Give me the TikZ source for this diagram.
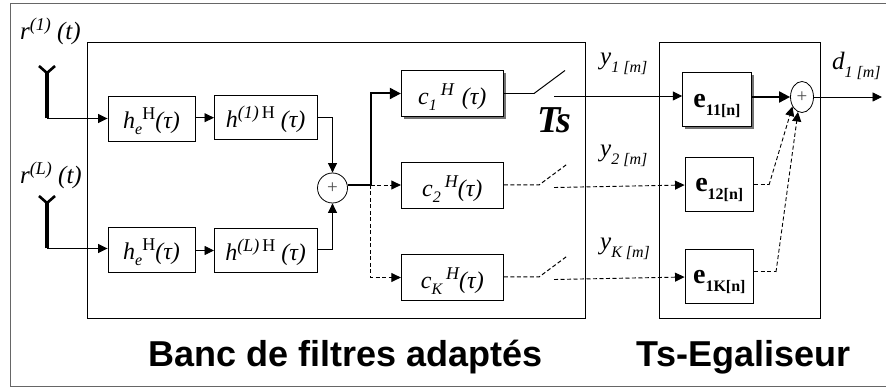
\documentclass[tikz,border=0pt]{standalone}
\usepackage{fontspec}
\setmainfont{Liberation Serif}
\setsansfont{Liberation Sans}
\usetikzlibrary{arrows.meta,shadows,shapes.geometric}
\newcommand{\sublo}[2][6pt]{\raisebox{-#1}[0pt][0pt]{\fontsize{16}{18}\selectfont #2}}
\newcommand{\suphi}[2][9pt]{\raisebox{#1}[0pt][0pt]{\fontsize{18}{20}\selectfont #2}}
\newcommand{\eqsub}[1]{e\raisebox{-8pt}[0pt][0pt]{\fontsize{16}{18}\selectfont #1}}
\tikzset{
  sig/.style={-{Triangle[length=9.5pt,width=9pt]},line width=0.9pt},
  sigthick/.style={-{Triangle[length=11pt,width=11pt]},line width=2pt},
  sigdash/.style={sig,dash pattern=on 4pt off 2.5pt},
  wire/.style={line width=1pt},
  wiredash/.style={wire,dash pattern=on 4pt off 2.5pt},
  filt/.style={draw,line width=0.9pt,inner sep=0pt,text height=20pt,text depth=0pt,font=\fontsize{24}{26}\selectfont\itshape},
  chan/.style={filt,text height=22pt,minimum width=102pt,minimum height=46pt},
  shad/.style={fill=white,drop shadow={shadow xshift=2.5pt,shadow yshift=-2.5pt,fill=black!55,opacity=1}},
  eq/.style={filt,text height=16pt,minimum width=68.6pt,font=\fontsize{28}{30}\selectfont\bfseries},
  zone/.style={draw,line width=0.9pt,inner sep=0pt},
  adder/.style={draw,line width=0.8pt,inner sep=0pt,font=\fontsize{19}{19}\selectfont\color{black!70}},
  tag/.style={inner sep=0pt,anchor=base west,font=\fontsize{25}{27}\selectfont\itshape},
  title/.style={inner sep=0pt,anchor=base,font=\fontsize{36}{38}\selectfont\sffamily\bfseries},
  ant/.style={line width=3.3pt},
  antfork/.style={line width=2.6pt},
}
\begin{document}
\begin{tikzpicture}[x=1pt,y=-1pt]
\useasboundingbox (0,0) rectangle (886,387);
\node[draw=black!60,line width=1pt,minimum width=877pt,minimum height=382.5pt,inner sep=0pt] (frame) at (449,195.2) {};

\node[zone,minimum width=498pt,minimum height=275.5pt] (banc) at (336,180.2) {};
\node[zone,minimum width=161pt,minimum height=275.5pt] (egal) at (739.5,180.2) {};

\node[filt,minimum width=87pt,minimum height=45pt] (he1) at (151.5,118.5) {h\sublo{e}\suphi{\upshape H}(τ)};
\node[filt,minimum width=102.5pt,minimum height=43.5pt] (h1) at (265.7,117.7) {h\suphi{(1)\,\upshape H} (τ)};
\node[filt,minimum width=87pt,minimum height=45pt] (he2) at (151.5,249.7) {h\sublo{e}\suphi{\upshape H}(τ)};
\node[filt,minimum width=102.5pt,minimum height=43.5pt] (h2) at (265.7,250.5) {h\suphi{(L)\,\upshape H} (τ)};
\node[adder,circle,minimum size=30pt] (sum1) at (332.5,188) {+};
\coordinate (split) at (370.5,185);

\node[chan,shad] (c1) at (452.3,93.5) {c\sublo{1}\,\suphi{H}\,\,(τ)};
\node[chan] (c2) at (452.3,185.5) {c\sublo{2}\,\suphi{H}(τ)};
\node[chan] (cK) at (452.3,277.5) {c\sublo{K}\,\suphi{H}(τ)};

\node[eq,shad,minimum height=53.5pt] (e11) at (717,99.7) {\eqsub{11[n]}};
\node[eq,minimum height=54pt] (e12) at (719.3,184) {\eqsub{12[n]}};
\node[eq,minimum height=54pt] (e1K) at (719.3,276) {\eqsub{1K[n]}};
\node[adder,ellipse,minimum width=23pt,minimum height=31pt] (sum2) at (802,97) {+};

\coordinate (sw1a) at (534,93.5);
\coordinate (sw1b) at (565,70.5);
\coordinate (sw1c) at (554,96);
\coordinate (sw2a) at (539,185);
\coordinate (sw2b) at (568,163.5);
\coordinate (sw2c) at (554,187.5);
\coordinate (swKa) at (539,277);
\coordinate (swKb) at (568,255.5);
\coordinate (swKc) at (554,279.5);
\coordinate (bend2) at (769,185);
\coordinate (bendK) at (776,272);
\coordinate (out) at (882,97);

\coordinate (ant1) at (47,118.5);
\coordinate (ant1t) at (47,73);
\coordinate (ant1l) at (39,66);
\coordinate (ant1r) at (55,66);
\coordinate (ant2) at (47,248.5);
\coordinate (ant2t) at (47,203);
\coordinate (ant2l) at (39,196);
\coordinate (ant2r) at (55,196);

\draw[ant] (ant1) -- (ant1t);
\draw[antfork] (ant1l) -- (ant1t) -- (ant1r);
\draw[ant] (ant2) -- (ant2t);
\draw[antfork] (ant2l) -- (ant2t) -- (ant2r);

\draw[sig] (ant1) -- (he1.west |- ant1);
\draw[sig] (ant2) -- (he2.west |- ant2);
\draw[sig] (he1.east |- h1.west) -- (h1.west);
\draw[sig] (he2.east |- h2.west) -- (h2.west);
\draw[sig] (h1.east) -| (sum1.north);
\draw[sig] (h2.east |- 0,249) -| (sum1.south);

\draw[line width=1.6pt] (sum1.east |- split) -- (split);
\draw[sigthick] (split) |- (c1.west);
\draw[sigdash] (split) -- (c2.west |- split);
\draw[sigdash] (split) |- (cK.west);

\draw[wire,line width=1.6pt] (c1.east) -- (sw1a);
\draw[wire] (sw1a) -- (sw1b);
\draw[wiredash] (c2.east |- sw2a) -- (sw2a) -- (sw2b);
\draw[wiredash] (cK.east |- swKa) -- (swKa) -- (swKb);

\draw[sig] (sw1c) -- (e11.west |- sw1c);
\draw[sigdash] (sw2c) -- (e12.west |- sw2a);
\draw[sigdash] (swKc) -- (e1K.west |- swKa);

\draw[sigthick] (e11.east |- sum2) -- (sum2.west);
\draw[sig] (sum2.east) -- (out);
\draw[wiredash] (e12.east |- bend2) -- (bend2);
\draw[sigdash] (bend2) -- (sum2.225);
\draw[wiredash] (e1K.east |- bendK) -- (bendK);
\draw[sigdash] (bendK) -- (sum2.255);

\node[tag] (r1) at (20,40) {r\suphi{(1)} (t)};
\node[tag] (r2) at (20,184) {r\suphi{(L)} (t)};
\node[tag] (y1) at (600,65) {y\sublo[8pt]{1 [m]}};
\node[tag] (y2) at (600,157) {y\sublo[8pt]{2 [m]}};
\node[tag] (yK) at (600,250) {y\sublo[8pt]{K [m]}};
\node[tag] (d1) at (832,70) {d\sublo[8pt]{1 [m]}};
\node[tag,font=\fontsize{38}{40}\selectfont\bfseries\itshape] (ts) at (537,133) {Ts};

\node[title] (tbanc) at (345.5,366) {Banc de filtres adaptés};
\node[title] (tegal) at (743.5,366) {Ts-Egaliseur};
\end{tikzpicture}
\end{document}
